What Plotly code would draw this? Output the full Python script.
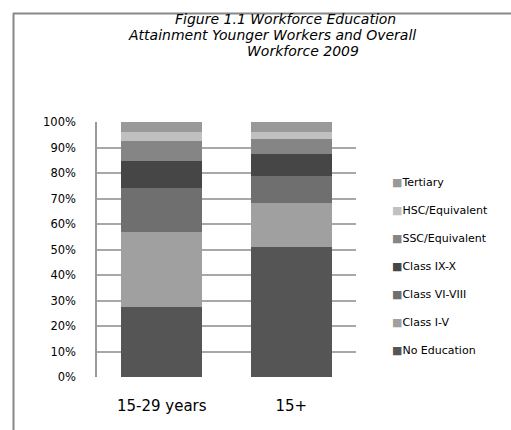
import plotly.graph_objects as go

categories = ["15-29 years", "15+"]
series_names = ["No Education", "Class I-V", "Class VI-VIII", "Class IX-X",
                "SSC/Equivalent", "HSC/Equivalent", "Tertiary"]
no_education = [27.3, 51.0]
class_i_v = [29.4, 17.1]
class_vi_viii = [17.4, 10.8]
class_ix_x = [10.5, 8.6]
ssc = [7.9, 5.8]
hsc = [3.6, 2.8]
tertiary = [3.9, 3.9]
series_values = [no_education, class_i_v, class_vi_viii, class_ix_x, ssc, hsc, tertiary]
colors = ["#555555", "#a0a0a0", "#6f6f6f", "#464646", "#858585", "#c0c0c0", "#999999"]
tick_vals = [0, 10, 20, 30, 40, 50, 60, 70, 80, 90, 100]
tick_text = [f"{v}%" for v in tick_vals]
title_lines = ["Figure 1.1 Workforce Education",
               "Attainment Younger Workers and Overall",
               "Workforce 2009"]

W, H = 511, 430
L, R, T, B = 97, 356, 122, 377
FONT = "DejaVu Sans, Verdana, sans-serif"


def px(x):
    return (x - L) / (R - L)


def py(y):
    return (B - y) / (B - T)


fig = go.Figure()
for name, vals, col in zip(series_names, series_values, colors):
    fig.add_trace(go.Bar(x=categories, y=vals, name=name, marker_color=col,
                         marker_line_width=0, showlegend=False))
n = len(series_names)
for i, (name, col) in enumerate(zip(series_names, colors)):
    fig.add_trace(go.Scatter(
        x=[None], y=[None], mode="markers",
        name=f'<span style="color:{col}">■</span>{name}',
        legendgroup=name, legendrank=n - i,
        marker=dict(symbol="square", size=0.1, color="rgba(0,0,0,0)")))

title_x = [285, 272, 303]
title_y = [19, 35, 51]
annotations = [dict(text=t, x=px(xc), y=py(yc), xref="paper", yref="paper",
                    xanchor="center", yanchor="middle", showarrow=False,
                    font=dict(size=14, family=FONT, color="#000000", style="italic"))
               for t, xc, yc in zip(title_lines, title_x, title_y)]

fig.update_layout(
    width=W, height=H,
    margin=dict(l=L, r=W - R, t=T, b=H - B, autoexpand=False),
    barmode="stack", bargap=0.375,
    plot_bgcolor="white", paper_bgcolor="white",
    font=dict(family=FONT, color="#000000"),
    legend=dict(x=px(352), y=py(167), xanchor="left", yanchor="top",
                traceorder="grouped", tracegroupgap=9,
                font=dict(size=11, family=FONT), bgcolor="rgba(0,0,0,0)",
                itemwidth=30),
    xaxis=dict(showline=False, tickfont=dict(size=15), ticks="",
               showgrid=False, ticklabelstandoff=18),
    yaxis=dict(range=[0, 100], tickvals=tick_vals, ticktext=tick_text,
               tickfont=dict(size=11.5), showgrid=True, gridcolor="#a8a8a8",
               gridwidth=1.5, showline=True, linecolor="#999999", linewidth=1.5,
               ticks="", ticklabelstandoff=17, zeroline=False),
    annotations=annotations,
    shapes=[
        dict(type="line", xref="paper", yref="paper", x0=px(13), x1=px(520),
             y0=py(13.5), y1=py(13.5), line=dict(color="#888888", width=2)),
        dict(type="line", xref="paper", yref="paper", x0=px(13.5), x1=px(13.5),
             y0=py(13), y1=py(440), line=dict(color="#888888", width=2)),
    ],
)

fig.write_html("out.html")
